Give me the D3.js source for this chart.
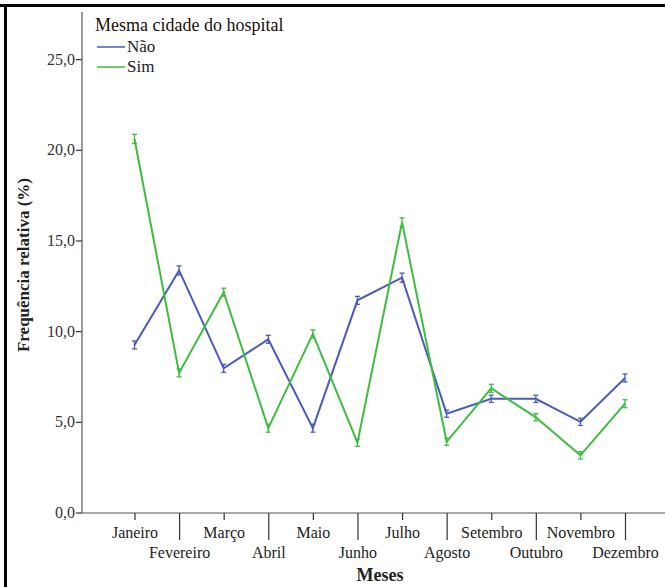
<!DOCTYPE html>
<html><head><meta charset="utf-8">
<script src="https://cdn.jsdelivr.net/npm/d3@7"></script>
<style>body{margin:0;background:#fff}svg{display:block}</style>
</head><body>
<svg id="c" width="665" height="587" style="font-family:'Liberation Serif','DejaVu Serif',serif"></svg>
<script>
const months = ["Janeiro","Fevereiro","Março","Abril","Maio","Junho","Julho","Agosto","Setembro","Outubro","Novembro","Dezembro"];
const naoValues = [9.24, 13.35, 7.95, 9.55, 4.65, 11.7, 12.95, 5.45, 6.27, 6.27, 5.0, 7.42];
const naoErrors = [0.22, 0.25, 0.22, 0.22, 0.22, 0.22, 0.25, 0.2, 0.2, 0.2, 0.2, 0.22];
const simValues = [20.6, 7.7, 12.15, 4.65, 9.85, 3.85, 16.0, 3.9, 6.85, 5.25, 3.15, 6.0];
const simErrors = [0.25, 0.22, 0.22, 0.22, 0.22, 0.2, 0.25, 0.2, 0.22, 0.2, 0.2, 0.22];
const yTicks = [0, 5, 10, 15, 20, 25];
const seriesNames = ["Não", "Sim"];
const legendTitle = "Mesma cidade do hospital";
const xTitle = "Meses";
const yTitle = "Frequência relativa (%)";
const colors = {"Não": "#4a5cc0", "Sim": "#3dbd3d"};

const FONT = "'Liberation Serif','DejaVu Serif',serif";
const svg = d3.select("#c");
const x = d3.scalePoint().domain(months).range([134.5, 625]);
const y = d3.scaleLinear().domain([0, 27.6]).range([512.5, 12]);
const fmt = d => d.toFixed(1).replace(".", ",");

// outer frame
svg.append("line").attr("x1",0).attr("x2",665).attr("y1",5.5).attr("y2",5.5).attr("stroke","#000").attr("stroke-width",3);
svg.append("line").attr("x1",5.5).attr("x2",5.5).attr("y1",4).attr("y2",587).attr("stroke","#000").attr("stroke-width",3);

// y axis
const yAx = svg.append("g").attr("transform","translate(82,0)")
  .call(d3.axisLeft(y).tickValues(yTicks).tickFormat(fmt).tickSize(6).tickPadding(1));
yAx.attr("font-family", FONT).attr("font-size", 16);
yAx.select(".domain").remove();
yAx.selectAll(".tick line").attr("stroke","#333").attr("stroke-width",1.2);
yAx.selectAll(".tick text").attr("fill","#333");
svg.append("line").attr("x1",82).attr("x2",82).attr("y1",12).attr("y2",513).attr("stroke","#555").attr("stroke-width",1.2);

// x axis
svg.append("line").attr("x1",82).attr("x2",665).attr("y1",513).attr("y2",513).attr("stroke","#555").attr("stroke-width",1.2);
const xAx = svg.append("g").attr("transform","translate(0,513)")
  .call(d3.axisBottom(x).tickSize(0).tickFormat(""));
xAx.attr("font-family", FONT).attr("font-size", 16);
xAx.select(".domain").remove();
xAx.selectAll(".tick").each(function(d, i){
  const g = d3.select(this);
  g.select("line").attr("y2", i % 2 === 0 ? 7 : 27).attr("stroke","#333").attr("stroke-width",1.2);
  g.select("text").attr("y", i % 2 === 0 ? 25 : 45).attr("dy", 0).text(d).attr("fill","#222");
});

// axis titles
svg.append("text").attr("x",380).attr("y",581).attr("text-anchor","middle").attr("font-family",FONT)
  .attr("font-size",18).attr("font-weight","bold").attr("fill","#222").text(xTitle);
svg.append("text").attr("transform","translate(29,265) rotate(-90)").attr("text-anchor","middle").attr("font-family",FONT)
  .attr("font-size",17).attr("font-weight","bold").attr("fill","#222").text(yTitle);

// series
const series = [
  {name: seriesNames[0], values: naoValues, errors: naoErrors},
  {name: seriesNames[1], values: simValues, errors: simErrors}
];
const line = d3.line().x((d,i) => x(months[i])).y(d => y(d));
series.forEach(s => {
  const col = colors[s.name];
  svg.append("path").datum(s.values).attr("d", line).attr("fill","none")
    .attr("stroke", col).attr("stroke-width", 2).attr("stroke-linejoin","miter");
  const eb = svg.append("g").attr("stroke", col).attr("stroke-width", 1.3);
  s.values.forEach((v, i) => {
    const cx = x(months[i]);
    const e = s.errors[i];
    eb.append("line").attr("x1",cx).attr("x2",cx).attr("y1",y(v-e)).attr("y2",y(v+e));
    eb.append("line").attr("x1",cx-2.5).attr("x2",cx+2.5).attr("y1",y(v-e)).attr("y2",y(v-e));
    eb.append("line").attr("x1",cx-2.5).attr("x2",cx+2.5).attr("y1",y(v+e)).attr("y2",y(v+e));
  });
});

// legend
svg.append("text").attr("x",95).attr("y",31).attr("font-family",FONT).attr("font-size",18).attr("fill","#1a1008").text(legendTitle);
series.forEach((s, i) => {
  const ly = 47 + i * 20;
  svg.append("line").attr("x1",97).attr("x2",125).attr("y1",ly).attr("y2",ly)
    .attr("stroke", colors[s.name]).attr("stroke-width",1.5);
  svg.append("text").attr("x",127).attr("y",ly+5).attr("font-family",FONT).attr("font-size",17).attr("fill","#222").text(s.name);
});
</script>
</body></html>
